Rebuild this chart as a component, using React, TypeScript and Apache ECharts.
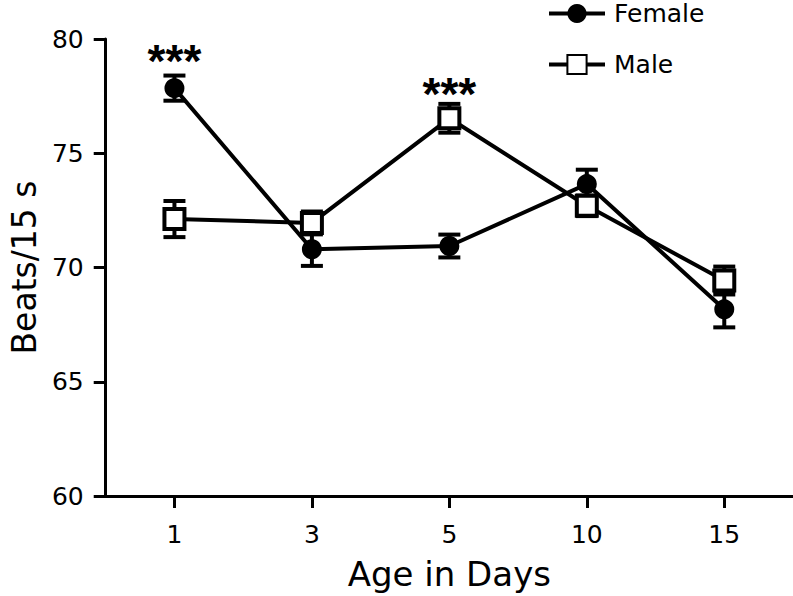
import React, { useEffect, useRef } from "react";
import * as echarts from "echarts";

const categories = ["1", "3", "5", "10", "15"];
const femaleMean = [77.85, 70.8, 70.94, 73.65, 68.17];
const femaleSem = [0.55, 0.73, 0.5, 0.63, 0.79];
const maleMean = [72.12, 71.95, 76.53, 72.7, 69.43];
const maleSem = [0.79, 0.5, 0.63, 0.45, 0.61];
const starLabel = "***";
const starPoints: [number, number][] = [
  [0, 79.05],
  [2, 77.6],
];
const yTicks = { min: 60, max: 80, interval: 5 };

const FONT = "DejaVu Sans";

export default function App() {
  const ref = useRef<HTMLDivElement>(null);

  useEffect(() => {
    if (!ref.current) return;
    const chart = echarts.init(ref.current, undefined, { renderer: "svg" });

    const errData = (mean: number[], sem: number[]) =>
      mean.map((m, i) => [i, m - sem[i], m + sem[i]]);

    const renderErr = (params: any, api: any) => {
      const x = api.value(0);
      const lo = api.value(1);
      const hi = api.value(2);
      const top = api.coord([x, hi]);
      const bot = api.coord([x, lo]);
      const hw = 11;
      const style = { stroke: "#000", lineWidth: 4 };
      return {
        type: "group",
        children: [
          { type: "line", shape: { x1: top[0], y1: top[1], x2: bot[0], y2: bot[1] }, style },
          { type: "line", shape: { x1: top[0] - hw, y1: top[1], x2: top[0] + hw, y2: top[1] }, style },
          { type: "line", shape: { x1: bot[0] - hw, y1: bot[1], x2: bot[0] + hw, y2: bot[1] }, style },
        ],
      };
    };

    const renderStar = (params: any, api: any) => {
      const p = api.coord([api.value(0), api.value(1)]);
      return {
        type: "text",
        x: p[0],
        y: p[1],
        style: {
          text: starLabel,
          fill: "#000",
          fontFamily: "Liberation Sans",
          fontSize: 46,
          fontWeight: "bold",
          align: "center",
          verticalAlign: "middle",
        },
      };
    };

    const option: any = {
      animation: false,
      backgroundColor: "#fff",
      textStyle: { fontFamily: FONT, color: "#000" },
      grid: { left: 104, right: 0, top: 39, bottom: 99, containLabel: false },
      legend: {
        data: [
          { name: "Female", lineStyle: { width: 4, color: "#000" } },
          { name: "Male", lineStyle: { width: 4, color: "#000" } },
        ],
        orient: "vertical",
        left: 547,
        top: 1,
        padding: 0,
        itemWidth: 56,
        itemHeight: 24,
        itemGap: 26,
        textStyle: {
          fontFamily: FONT,
          fontSize: 25,
          lineHeight: 24,
          color: "#000",
          padding: [0, 0, 0, 4],
        },
      },
      xAxis: {
        type: "category",
        data: categories,
        boundaryGap: true,
        name: "Age in Days",
        nameLocation: "middle",
        nameGap: 61,
        nameTextStyle: { fontFamily: FONT, fontSize: 34, color: "#000" },
        axisLine: { lineStyle: { color: "#000", width: 3 } },
        axisTick: { show: true, alignWithLabel: true, length: 12, lineStyle: { color: "#000", width: 3 } },
        axisLabel: { fontFamily: FONT, fontSize: 25, color: "#000", margin: 26 },
        splitLine: { show: false },
      },
      yAxis: {
        type: "value",
        min: yTicks.min,
        max: yTicks.max,
        interval: yTicks.interval,
        name: "Beats/15 s",
        nameLocation: "middle",
        nameGap: 64,
        nameTextStyle: { fontFamily: FONT, fontSize: 33, color: "#000" },
        axisLine: { show: true, lineStyle: { color: "#000", width: 3 } },
        axisTick: { show: true, length: 12, lineStyle: { color: "#000", width: 3 } },
        axisLabel: { fontFamily: FONT, fontSize: 25, color: "#000", margin: 22 },
        splitLine: { show: false },
      },
      series: [
        {
          name: "maleErr",
          type: "custom",
          renderItem: renderErr,
          data: errData(maleMean, maleSem),
          z: 1,
          silent: true,
        },
        {
          name: "femaleErr",
          type: "custom",
          renderItem: renderErr,
          data: errData(femaleMean, femaleSem),
          z: 1,
          silent: true,
        },
        {
          name: "Male",
          type: "line",
          data: maleMean,
          symbol: "rect",
          symbolSize: 20,
          showAllSymbol: true,
          lineStyle: { color: "#000", width: 4 },
          itemStyle: { color: "#fff", borderColor: "#000", borderWidth: 4 },
          z: 2,
        },
        {
          name: "Female",
          type: "line",
          data: femaleMean,
          symbol: "circle",
          symbolSize: 20,
          showAllSymbol: true,
          lineStyle: { color: "#000", width: 4 },
          itemStyle: { color: "#000", borderColor: "#000", borderWidth: 0 },
          z: 3,
        },
        {
          name: "stars",
          type: "custom",
          renderItem: renderStar,
          data: starPoints,
          z: 4,
          silent: true,
        },
      ],
    };

    chart.setOption(option);
    return () => chart.dispose();
  }, []);

  return (
    <div
      ref={ref}
      style={{ position: "fixed", left: 0, top: 0, width: 793, height: 596, background: "#fff" }}
    />
  );
}
